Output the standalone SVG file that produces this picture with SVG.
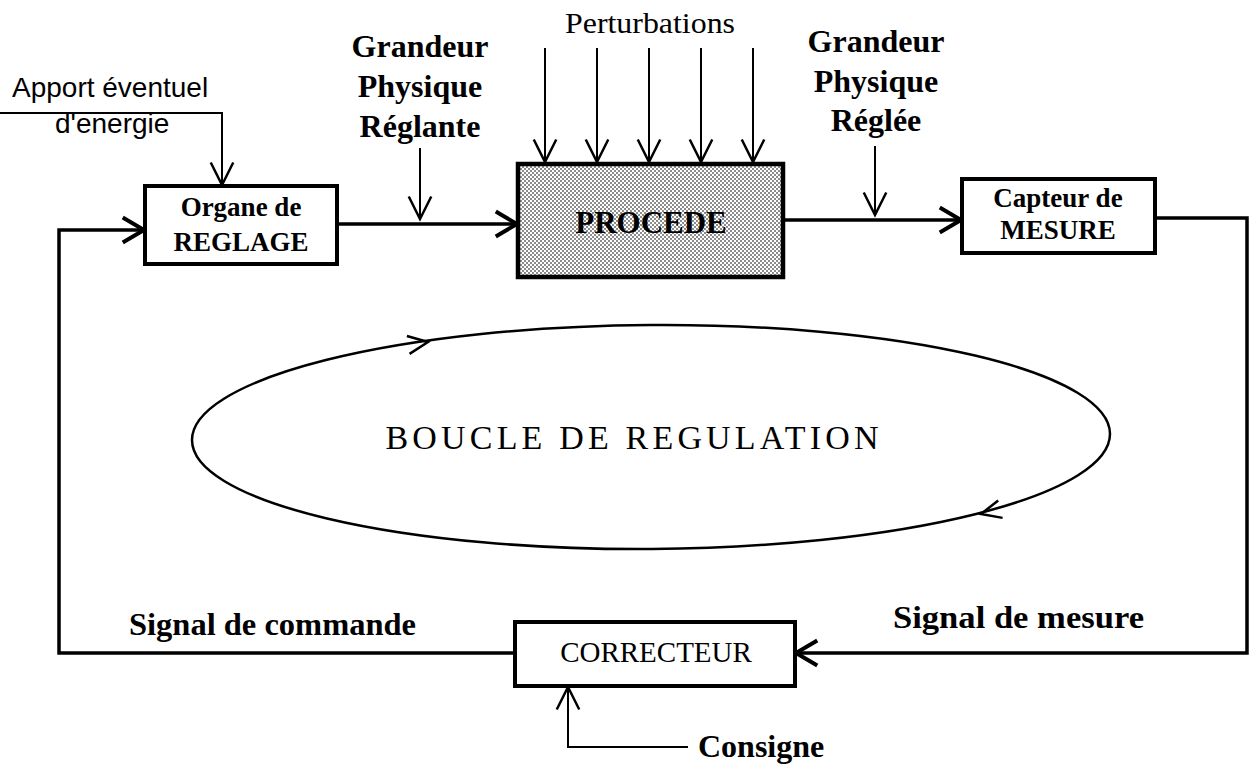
<svg xmlns="http://www.w3.org/2000/svg" width="1251" height="765" viewBox="0 0 1251 765">
<style>
.bg{fill:#fff}
.box{fill:#fff;stroke:#000;stroke-width:4}
.proc{fill:url(#dots);stroke:#000;stroke-width:4.5}
.thick{fill:none;stroke:#000;stroke-width:3.5}
.thin{fill:none;stroke:#000;stroke-width:2}
.loop{fill:none;stroke:#000;stroke-width:2.5}
.sans{font-family:"Liberation Sans",Arial,sans-serif;font-size:28px;fill:#000}
.serif{font-family:"Liberation Serif","Times New Roman",serif;fill:#000}
.b{font-weight:bold}
.mid{text-anchor:middle}
</style>
<defs>
<pattern id="dots" width="4" height="4" patternUnits="userSpaceOnUse">
<rect width="4" height="4" fill="#fff"/>
<rect x="0" y="0" width="2" height="2" fill="#8c8c8c"/>
<rect x="2" y="2" width="2" height="2" fill="#8c8c8c"/>
</pattern>
<marker id="ah" markerUnits="userSpaceOnUse" markerWidth="30" markerHeight="30" refX="0" refY="0" viewBox="-22 -12 24 24" orient="auto" overflow="visible">
<path d="M-17,-10 L0,0 L-17,10" fill="none" stroke="#000" stroke-width="3.2"/>
</marker>
<marker id="ahs" markerUnits="userSpaceOnUse" markerWidth="30" markerHeight="30" refX="0" refY="0" viewBox="-22 -12 24 24" orient="auto" overflow="visible">
<path d="M-18,-9 L0,0 L-18,9" fill="none" stroke="#000" stroke-width="2"/>
</marker>
</defs>
<rect class="bg" width="1251" height="765"/>

<g id="connectors">
<path class="thin" d="M0,113 H222 V185" marker-end="url(#ahs)"/>
<path class="thick" d="M515,653 H59 V230 H144" marker-end="url(#ah)"/>
<path class="thick" d="M337,224 H517" marker-end="url(#ah)"/>
<path class="thin" d="M420,148 V219" marker-end="url(#ahs)"/>
<path class="thin" d="M545,48 V162" marker-end="url(#ahs)"/>
<path class="thin" d="M597,48 V162" marker-end="url(#ahs)"/>
<path class="thin" d="M649,48 V162" marker-end="url(#ahs)"/>
<path class="thin" d="M701,48 V162" marker-end="url(#ahs)"/>
<path class="thin" d="M753,48 V162" marker-end="url(#ahs)"/>
<path class="thick" d="M783,220 H961" marker-end="url(#ah)"/>
<path class="thin" d="M875,146 V215" marker-end="url(#ahs)"/>
<path class="thick" d="M1155,218 H1247 V653 H796" marker-end="url(#ah)"/>
<path class="thin" d="M688,747 H568 V687" marker-end="url(#ahs)"/>
</g>

<g id="label-apport">
<text class="sans" x="12" y="97">Apport éventuel</text>
<text class="sans" x="55" y="133">d'energie</text>
</g>
<g id="label-reglante" class="serif b mid" font-size="32">
<text x="420" y="57">Grandeur</text>
<text x="420" y="97">Physique</text>
<text x="420" y="137">Réglante</text>
</g>
<g id="label-perturbations">
<text class="serif mid" font-size="29" x="650" y="33" textLength="170" lengthAdjust="spacingAndGlyphs">Perturbations</text>
</g>
<g id="label-reglee" class="serif b mid" font-size="32">
<text x="876" y="52">Grandeur</text>
<text x="876" y="92">Physique</text>
<text x="876" y="131">Réglée</text>
</g>

<g id="node-organe">
<rect class="box" x="145" y="186" width="192" height="78"/>
<text class="serif b mid" font-size="27" x="241" y="216">Organe de</text>
<text class="serif b mid" font-size="27" x="241" y="251">REGLAGE</text>
</g>
<g id="node-procede">
<rect class="proc" x="518" y="164" width="265" height="113"/>
<text class="serif b mid" font-size="31" x="651" y="233">PROCEDE</text>
</g>
<g id="node-capteur">
<rect class="box" x="962" y="179" width="193" height="74"/>
<text class="serif b mid" font-size="27" x="1058" y="207">Capteur de</text>
<text class="serif b mid" font-size="27" x="1058" y="239">MESURE</text>
</g>
<g id="node-correcteur">
<rect class="box" x="515" y="622" width="280" height="64" stroke-width="3.5"/>
<text class="serif mid" font-size="29" x="656" y="662">CORRECTEUR</text>
</g>

<g id="labels-signals" class="serif b" font-size="32">
<text x="129" y="635" textLength="287" lengthAdjust="spacingAndGlyphs">Signal de commande</text>
<text x="893" y="628" textLength="251" lengthAdjust="spacingAndGlyphs">Signal de mesure</text>
<text x="698" y="757">Consigne</text>
</g>

<g id="loop">
<ellipse class="loop" cx="651" cy="437" rx="459" ry="112" transform="rotate(-0.4 651 437)"/>
<path class="loop" d="M-20,-9 L0,0 L-20,9" transform="translate(428 342) rotate(-8.5)"/>
<path class="loop" d="M-20,-9 L0,0 L-20,9" transform="translate(981 514) rotate(166)"/>
<text class="serif mid" font-size="34" x="632" y="449" textLength="493" lengthAdjust="spacing">BOUCLE DE REGULATION</text>
</g>
</svg>
